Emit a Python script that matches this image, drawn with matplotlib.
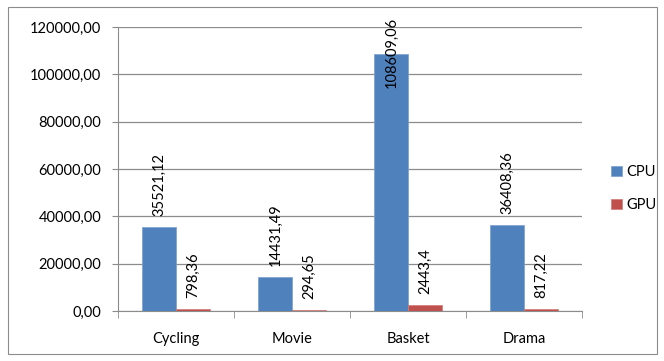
import numpy as np
import matplotlib.pyplot as plt
from matplotlib.patches import Rectangle

categories = ["Cycling", "Movie", "Basket", "Drama"]
cpu_values = [35521.12, 14431.49, 108609.06, 36408.36]
gpu_values = [798.36, 294.65, 2443.4, 817.22]
cpu_labels = ["35521,12", "14431,49", "108609,06", "36408,36"]
gpu_labels = ["798,36", "294,65", "2443,4", "817,22"]
y_ticks = [0, 20000, 40000, 60000, 80000, 100000, 120000]

plt.rcParams['font.family'] = ['Lato', 'DejaVu Sans']
grid_color = '#8c8c8c'
fs = 10.5

fig = plt.figure(figsize=(6.64, 3.61), dpi=100)
ax = fig.add_axes([0.1777, 0.1385, 0.6988, 0.7865])

# chart border
fig.patches.append(Rectangle((8 / 664, 7 / 361), 649 / 664, 347 / 361, transform=fig.transFigure,
                             fill=False, edgecolor='#8c8c8c', linewidth=0.8))

x = np.arange(len(categories))
w = 0.29
cpu_bars = ax.bar(x - w / 2, cpu_values, w, color='#4f81bd', edgecolor='#7a9fd0', linewidth=0.5,
                  label='CPU', zorder=3)
gpu_bars = ax.bar(x + w / 2, gpu_values, w, color='#c0504d', edgecolor='#d07a77', linewidth=0.5,
                  label='GPU', zorder=3)

ax.set_ylim(0, 120000)
ax.set_xlim(-0.5, len(categories) - 0.5)
ax.set_yticks(y_ticks)
ax.set_yticklabels([f"{v},00" for v in y_ticks], fontsize=fs)
ax.yaxis.grid(True, color=grid_color, linewidth=0.9, zorder=0)
ax.set_axisbelow(True)

ax.set_xticks(x)
ax.set_xticklabels(categories, fontsize=fs)
ax.tick_params(axis='x', length=0, pad=15)
ax.set_xticks(np.arange(-0.5, len(categories)), minor=True)
ax.tick_params(axis='x', which='minor', length=5, color=grid_color, direction='out')
ax.tick_params(axis='y', length=4, color=grid_color, pad=8)

for s in ['top', 'right']:
    ax.spines[s].set_visible(False)
ax.spines['left'].set_color(grid_color)
ax.spines['bottom'].set_color(grid_color)

for bar, lab in zip(cpu_bars, cpu_labels):
    h = bar.get_height()
    if h > 90000:
        # label pushed down so it stays inside the chart
        ax.annotate(lab, (bar.get_x() + bar.get_width() / 2, 1.0), xycoords=('data', 'axes fraction'),
                    xytext=(0, 7), textcoords='offset points', rotation=90,
                    ha='center', va='top', fontsize=fs, annotation_clip=False)
    else:
        ax.annotate(lab, (bar.get_x() + bar.get_width() / 2, h), xytext=(0, 8),
                    textcoords='offset points', rotation=90, ha='center', va='bottom', fontsize=fs)
for bar, lab in zip(gpu_bars, gpu_labels):
    h = bar.get_height()
    ax.annotate(lab, (bar.get_x() + bar.get_width() / 2, h), xytext=(0, 8),
                textcoords='offset points', rotation=90, ha='center', va='bottom', fontsize=fs)

ax.legend(loc='center left', bbox_to_anchor=(1.035, 0.43), frameon=False, fontsize=fs,
          handlelength=0.7, handleheight=0.7, handletextpad=0.3, labelspacing=1.3)

fig.savefig("out.png", dpi=100)
